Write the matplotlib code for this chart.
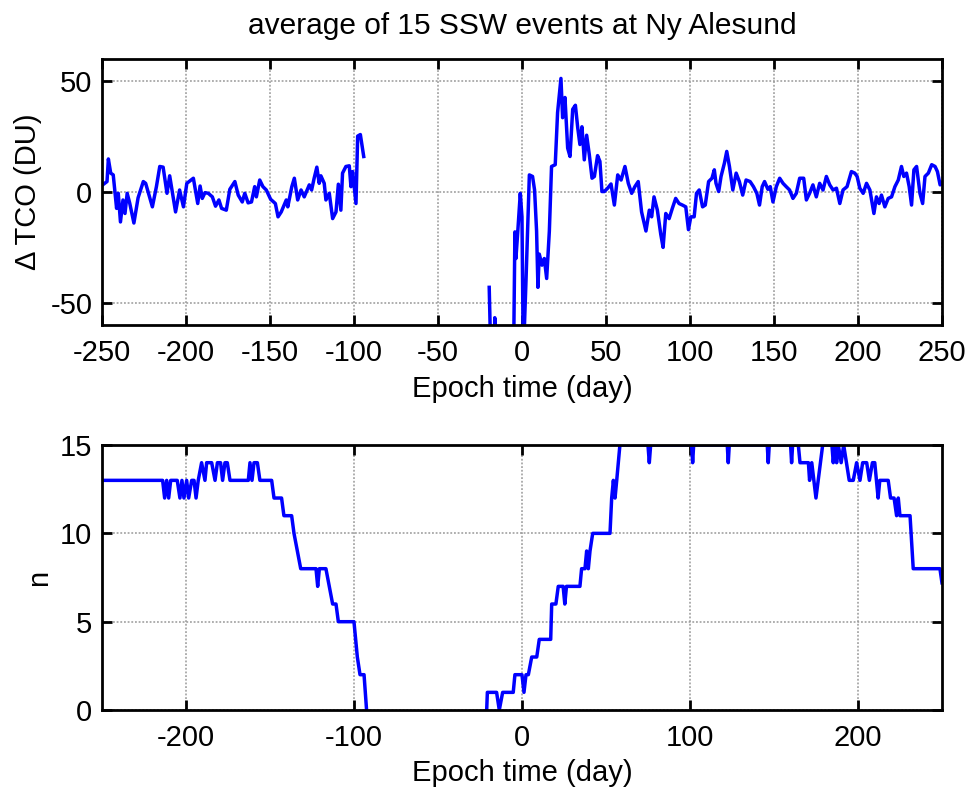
import numpy as np
import matplotlib
matplotlib.use("Agg")
import matplotlib.pyplot as plt

# ---- top panel: TCO anomaly (DU), two data segments ----
days_a = [-249.6, -247, -246.2, -244.8, -243.3, -241.3, -240.3, -239, -237.5, -236.3,
          -235, -233.5, -231, -228.5, -225.4, -224, -220, -217.6, -215.6, -213.6,
          -211.3, -209.7, -206.2, -203.8, -201.5, -199.5, -195.6, -193, -191.6, -190.3,
          -188.7, -186.7, -184.3, -182.4, -180.4, -178.8, -176, -173.9, -170.9, -168.9,
          -166.5, -165, -163, -161, -159.1, -158.1, -156.1, -154.2, -152.2, -149.6,
          -146.8, -145.2, -143.3, -140.3, -139.4, -137, -135.5, -133.5, -131.5, -129.6,
          -126.6, -125.2, -123.7, -122.1, -120.7, -119.7, -117.7, -116.7, -114.7, -112.7,
          -110.7, -109.3, -107.8, -106.8, -104.8, -102.8, -101.8, -100.8, -98.8, -97.8,
          -96.2, -94.2]
tco_a = [3.2, 4.7, 14.9, 8.5, 7.7, -7.4, -0.6, -13.5, -3.6, -9.7,
         -0.6, -5, -14, -2.6, 4.7, 3.9, -6.7, 2.4, 11.5, 11.2,
         -0.6, 7.3, -9, 0.9, -6.7, 3.9, 6.2, -5.2, 2.7, -2.9,
         -0.3, -0.6, -2.2, -6.4, -3.6, -7.4, -8.2, 1.2, 4.7, -1.4,
         -4.5, -0.6, -4.9, -4.5, 2.4, -2.2, 5.4, 2.4, 0.9, -3.3,
         -5.2, -11.2, -9, -3.6, -6.7, 2.4, 6.2, -3.6, 0.9, -2.2,
         3.2, 0.9, 6.2, 11.2, 3.9, 7.3, 3.9, -3.6, -0.6, -12,
         -9, 3.5, -8.2, 8.5, 11.5, 11.8, 2.4, 9.2, -5.2, 25.2,
         25.9, 16]

days_b = [-19.5, -18.5, -16.5, -16.2, -15.5, -5, -4.2, -3.6, -2.6, -1,
          0, 0.8, 2.4, 4.4, 6.3, 7.5, 8.7, 9.5, 10.3, 11.9,
          13.3, 14.7, 16.3, 17.6, 19.8, 21.2, 23.2, 24.2, 25.6, 27.2,
          28.6, 30.2, 31.8, 33.2, 34.5, 35.7, 37.1, 38.5, 40.1, 41.7,
          43.1, 45, 46.4, 47.6, 49, 51, 53, 55, 57, 59,
          61.3, 63.3, 65.3, 67.2, 69.2, 71.2, 73.8, 75.8, 77.2, 78.6,
          80.6, 82.6, 84, 85.6, 87.6, 89.5, 91.5, 93.5, 95.5, 97.5,
          99.1, 100.5, 102.5, 103.9, 105.5, 107.5, 109.1, 111.1, 113.1, 114.5,
          115.5, 117.1, 118.5, 120.5, 121.9, 123.5, 125.5, 127.5, 129.4, 131.4,
          133.4, 135.8, 137.8, 139.8, 141.4, 143, 144.4, 146.4, 147.8, 149.4,
          151.4, 153.4, 155.4, 157.3, 159.3, 161.3, 163.3, 165.3, 167.7, 169.3,
          171.2, 173.2, 175.2, 177.2, 179.2, 181.2, 183.2, 185.2, 187.2, 189.2,
          191.1, 193.5, 196.1, 198.1, 199.5, 201.1, 203.1, 205.1, 207.1, 209.5,
          211, 212.6, 214, 216, 218, 220, 222, 224, 225.9, 227.3,
          228.9, 230.5, 231.9, 233.3, 234.9, 236.9, 238.5, 239.9, 241.9, 243.9,
          245.9, 247.3, 248.9, 250]
tco_b = [-43, -75, -75, -56.7, -75, -75, -18, -30, -19, -0.6,
         -11.2, -75, -40, 7.7, 7, 0.9, -17.6, -43, -28, -33,
         -30, -39, -17.6, 11.5, 12.3, 35.8, 51.2, 33.5, 42.6, 19.8,
         16, 37.3, 39.1, 28.9, 21.4, 29.4, 14.5, 25.6, 16.7, 6.2,
         7, 16.4, 13.8, 0.2, 0.2, 1.7, 3.6, -5.9, 7.7, 5.4,
         11.5, 3.9, -0.6, 2.4, 4.7, -9, -17.6, -8.2, -11.2, -2.2,
         -8.2, -19, -25, -9.7, -12, -7.4, -2.9, -5.2, -5.9, -6.7,
         -17, -11.2, -11.2, -0.6, 0.9, -6.7, -5.9, 4.7, 6.2, 10,
         3.9, 0.2, 7, 13, 18.3, 11.5, 0.9, 8.5, 4.7, -1.4,
         5.4, 4.7, 2.4, -0.6, -5.9, 2.4, 4.7, 1.2, 2.4, -4.5,
         2.4, 6.2, 3.9, 2.4, 0.9, -2.9, -0.6, 6.2, 6.2, -3.6,
         -0.6, 3.2, -2.2, 3.9, 0.9, 7, 3.2, 0.9, 1.7, -5.2,
         0.9, 2.4, 9.2, 8.5, 7, 1.7, -0.6, 3.9, 0.9, -9.7,
         -2.2, -5.2, -1.4, -6.7, -2.9, -2.2, 2.4, 5.4, 11.5, 7,
         8.5, 2.4, -5.9, 10, 11.5, -0.6, -5.2, 7, 8.5, 12.3,
         11.5, 9.2, 3.2, 4]

# ---- bottom panel: number of events available ----
n_days_a = [-250, -213.9, -212.7, -211.5, -210.3, -209.1, -205.2, -203.6, -202.4, -201.2,
            -199.6, -198.4, -196.6, -195.2, -194, -192.7, -190.7, -188.7, -187.7, -184.7,
            -182.7, -181.3, -179.4, -178.2, -176.8, -175.4, -173.8, -162.9, -161.9, -160.7,
            -159.5, -157.5, -156, -149, -147.6, -143.1, -141.7, -137.1, -135.7, -133.7,
            -131.7, -122.6, -121.6, -120.6, -116.7, -114.7, -112.7, -110.7, -109.3, -100,
            -98, -96.4, -94, -92.5]
n_a = [13, 13, 12, 13, 12, 13, 13, 12, 13, 12,
       13, 12, 13, 13, 12, 13, 14, 13, 14, 14,
       13, 14, 14, 13, 14, 14, 13, 13, 14, 13,
       14, 14, 13, 13, 12, 12, 11, 11, 10, 9,
       8, 8, 7, 8, 8, 7, 6, 6, 5, 5,
       3, 2, 2, 0]

n_days_b = [-21, -20.6, -15.1, -13.5, -11.5, -5.2, -4.2, 0, 1.2, 2.4,
            3.8, 5.8, 8.8, 10.3, 17.1, 17.7, 20.2, 21.6, 24.5, 25.5,
            26.5, 34.5, 35.5, 37.5, 38.5, 39.5, 40.5, 42.1, 52.4, 53.4,
            54.4, 55.4, 56.4, 58.3, 75, 75.8, 76.6, 101, 101.6, 102.2,
            122.2, 122.8, 123.4, 146, 146.6, 147.2, 159.9, 160.5, 161.1, 164.5,
            165.5, 170.5, 171.2, 172.5, 175, 179, 184.5, 185.3, 186.3, 187.3,
            188.3, 190, 191.5, 194.8, 197.2, 199.2, 201.2, 202.8, 205.2, 206.8,
            208.6, 210, 212, 213, 218, 219.4, 221.5, 223, 224, 225,
            231, 232.9, 248.8, 250]
n_b = [0, 1, 1, 0, 1, 1, 2, 2, 1, 2,
       2, 3, 3, 4, 4, 6, 6, 7, 7, 6,
       7, 7, 8, 8, 9, 8, 9, 10, 10, 12,
       13, 12, 13, 15, 15, 14, 15, 15, 14, 15,
       15, 14, 15, 15, 14, 15, 15, 14, 15, 15,
       14, 14, 13, 14, 12, 15, 15, 14, 15, 14,
       15, 14, 15, 13, 13, 14, 13, 14, 14, 13,
       14, 14, 12, 13, 13, 12, 12, 11, 12, 11,
       11, 8, 8, 7.2]

plt.rcParams["font.family"] = ["Liberation Sans", "DejaVu Sans"]
plt.rcParams["font.size"] = 21
plt.rcParams["axes.unicode_minus"] = False

fig = plt.figure(figsize=(9.74, 7.92), dpi=100)
ax1 = fig.add_axes([0.1047, 0.5896, 0.8624, 0.336])
ax2 = fig.add_axes([0.1047, 0.1035, 0.8624, 0.3346])

blue = "#0000ff"
lw = 2.5
ax1.plot(days_a, tco_a, color=blue, linewidth=lw)
ax1.plot(days_b, tco_b, color=blue, linewidth=lw)
ax2.plot(n_days_a, n_a, color=blue, linewidth=lw)
ax2.plot(n_days_b, n_b, color=blue, linewidth=lw)

ax1.set_xlim(-250, 250)
ax1.set_ylim(-60, 60)
ax1.set_xticks(np.arange(-250, 251, 50))
ax1.set_yticks([-50, 0, 50])
ax1.set_xlabel("Epoch time (day)", labelpad=6)
ax1.set_ylabel("Δ TCO (DU)", labelpad=6)
ax1.set_title("average of 15 SSW events at Ny Alesund", fontsize=21.5, pad=18)

ax2.set_xlim(-250, 250)
ax2.set_ylim(0, 15)
ax2.set_xticks([-200, -100, 0, 100, 200])
ax2.set_yticks([0, 5, 10, 15])
ax2.set_xlabel("Epoch time (day)", labelpad=5)
ax2.set_ylabel("n", labelpad=5)

for ax in (ax1, ax2):
    ax.grid(True, color="#999999", linestyle=(0, (1.2, 1.2)), linewidth=1.1)
    ax.tick_params(direction="in", length=7, width=2.0, top=True, right=True)
    ax.tick_params(axis="x", pad=10)
    ax.tick_params(axis="y", pad=7)
    for sp in ax.spines.values():
        sp.set_linewidth(2.0)

fig.savefig("out.png", dpi=100, facecolor="white")
